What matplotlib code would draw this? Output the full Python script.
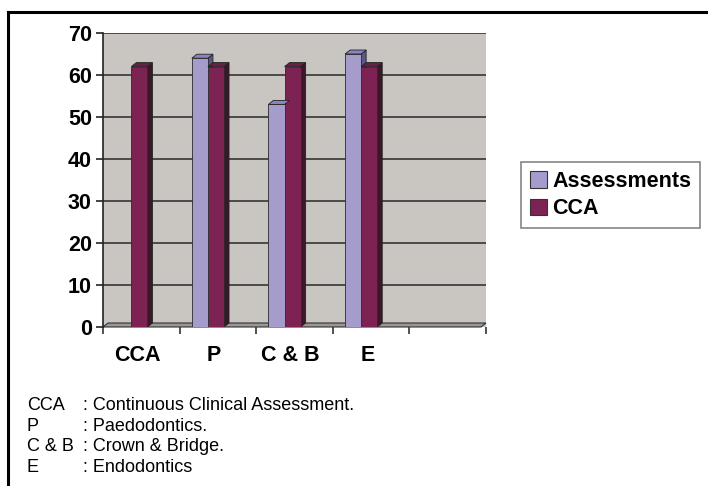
import matplotlib
matplotlib.use("Agg")
import matplotlib.pyplot as plt
from matplotlib.patches import Patch, Polygon
from matplotlib.lines import Line2D
import numpy as np

# 数据
categories = ["CCA", "P", "C & B", "E"]
assessments = [0, 64, 53, 65]
cca = [62, 62, 62, 62]
series_names = ["Assessments", "CCA"]
notes_abbr = ["CCA", "P", "C & B", "E"]
notes_text = [": Continuous Clinical Assessment.", ": Paedodontics.",
              ": Crown & Bridge.", ": Endodontics"]

# 颜色
c_ass = "#a59ccc"
c_ass_top = "#8c84c0"
c_ass_side = "#5e5588"
c_cca = "#7d2353"
c_cca_top = "#6b1e46"
c_cca_side = "#3b1828"
wall = "#c9c6c1"

plt.rcParams['font.family'] = ['Liberation Sans', 'DejaVu Sans']

W, H = 708, 486
fig = plt.figure(figsize=(W / 100, H / 100), dpi=100)
fig.patch.set_facecolor("white")

# 坐标区 (像素位置)
x0, x1, ytop, ybot = 103, 486, 33, 327
ax = fig.add_axes([x0 / W, 1 - ybot / H, (x1 - x0) / W, (ybot - ytop) / H])
ax.set_facecolor(wall)
ax.set_xlim(0, 5)
ax.set_ylim(0, 70)

# 深度 (数据单位)
dx = 5 / ((x1 - x0) / 5)
dy = 4 / ((ybot - ytop) / 70)

# 网格线
for v in range(10, 71, 10):
    ax.axhline(v, color="#404040", lw=1.3, zorder=1)

idx = np.arange(len(categories))
bw = 0.21
xa = idx + 0.265
xc = idx + 0.475

def bar3d(xs, vals, front, top, side):
    bars = ax.bar(xs, vals, width=bw, color=front, edgecolor="#2a2a2a",
                  linewidth=0.6, zorder=3)
    for b in bars:
        h = b.get_height()
        if h <= 0:
            continue
        l = b.get_x()
        r = l + b.get_width()
        ax.add_patch(Polygon([(r, 0), (r + dx, dy), (r + dx, h + dy), (r, h)],
                             closed=True, facecolor=side, edgecolor="#222222",
                             lw=0.6, zorder=2.9))
        ax.add_patch(Polygon([(l, h), (l + dx, h + dy), (r + dx, h + dy), (r, h)],
                             closed=True, facecolor=top, edgecolor="#222222",
                             lw=0.6, zorder=3.1))
    return bars

bar3d(xc, cca, c_cca, c_cca_top, c_cca_side)
bar3d(xa, assessments, c_ass, c_ass_top, c_ass_side)

# 地板
ax.add_patch(Polygon([(0, 0), (dx, dy), (5, dy), (5 - dx, 0)], closed=True,
                     facecolor="#9a9894", edgecolor="#333333", lw=0.8,
                     zorder=2.5, clip_on=False))

for s in ["top", "right", "bottom"]:
    ax.spines[s].set_visible(False)
ax.spines["left"].set_color("#222222")
ax.spines["left"].set_linewidth(1.2)

ax.set_yticks(range(0, 71, 10))
ax.tick_params(axis="y", length=5, width=1.2, pad=3, labelsize=15.5, color="#222222")
for t in ax.get_yticklabels():
    t.set_fontweight("bold")

ax.set_xticks(idx + 0.45)
ax.set_xticklabels(categories, fontsize=15.5, fontweight="bold")
ax.set_xticks(np.arange(0, 6), minor=True)
ax.tick_params(axis="x", which="major", length=0, pad=13)
ax.tick_params(axis="x", which="minor", length=5, width=1.2, color="#333333")

# 图例
handles = [Patch(facecolor=c_ass, edgecolor="#333333", lw=0.8),
           Patch(facecolor=c_cca, edgecolor="#333333", lw=0.8)]
leg = fig.legend(handles, series_names, loc="center left",
                 bbox_to_anchor=(521 / W, 1 - 195 / H),
                 prop={"size": 15.5, "weight": "bold"}, frameon=True,
                 fancybox=False, edgecolor="#666666", handlelength=0.8,
                 handleheight=0.8, handletextpad=0.25, labelspacing=0.3,
                 borderpad=0.4, borderaxespad=0)
leg.get_frame().set_linewidth(1.2)

# 说明文字
ys = [405, 426, 446.5, 467]
for a, t, y in zip(notes_abbr, notes_text, ys):
    fig.text(27 / W, 1 - y / H, a, fontsize=13, va="center", ha="left")
    fig.text(83 / W, 1 - y / H, t, fontsize=13, va="center", ha="left")

# 外框
fig.add_artist(Line2D([8 / W, 1], [1 - 12 / H, 1 - 12 / H], color="black",
                      lw=2.2, transform=fig.transFigure))
fig.add_artist(Line2D([8 / W, 8 / W], [0, 1 - 12 / H], color="black",
                      lw=2.2, transform=fig.transFigure))

fig.savefig("out.png", dpi=100)
